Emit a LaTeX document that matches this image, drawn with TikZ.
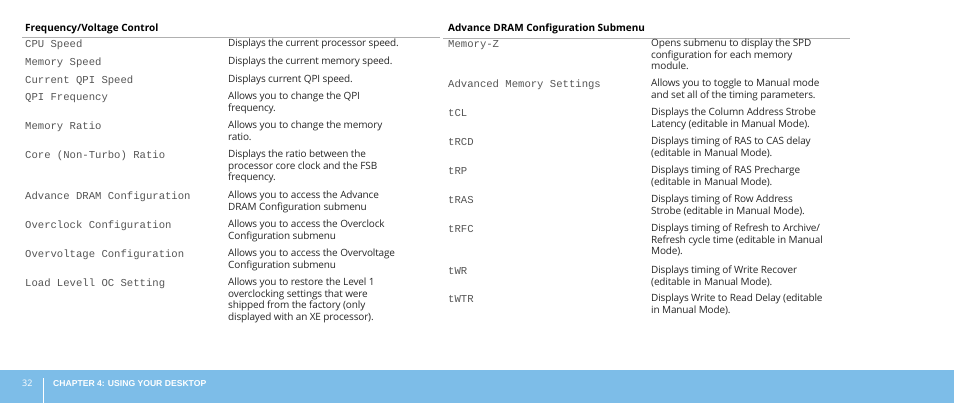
\documentclass[tikz,border=0pt]{standalone}
\usepackage{fontspec}
\setmainfont{Open Sans}
\setmonofont{Liberation Mono}
\definecolor{footblue}{HTML}{7DBDE8}
\definecolor{rulegray}{HTML}{B0B0B0}
\definecolor{itemgray}{HTML}{555555}
\tikzset{
  item/.style={anchor=base west, inner sep=0pt, font=\fontsize{10.6}{11}\ttfamily, text=itemgray},
  desc/.style={anchor=north west, inner sep=0pt, align=left,
    font=\fontsize{10}{11.5}\selectfont\addfontfeatures{LetterSpace=-1.5}, text=black!85},
  head/.style={anchor=base west, inner sep=0pt, font=\fontsize{10}{11}\selectfont\bfseries}
}
\begin{document}
\begin{tikzpicture}[x=1pt,y=-1pt]
        \useasboundingbox (0,0) rectangle (954,403);
        % headers
        \node[head] (hl) at (25,32) {Frequency/Voltage Control};
        \node[head] (hr) at (448,32) {Advance DRAM Configuration Submenu};
        \draw[rulegray] (22,37) -- (440,37);
        \draw[rulegray] (443,38) -- (850,38);
        % left table
        \foreach \y/\a/\b [count=\i] in {
            48/CPU Speed/Displays the current processor speed.,
            66/Memory Speed/Displays the current memory speed.,
            84/Current QPI Speed/Displays current QPI speed.,
            101/QPI Frequency/{Allows you to change the QPI\\frequency.},
            130/Memory Ratio/{Allows you to change the memory\\ratio.},
            159/Core (Non-Turbo) Ratio/{Displays the ratio between the\\processor core clock and the FSB\\frequency.},
            200/Advance DRAM Configuration/{Allows you to access the Advance\\DRAM Configuration submenu},
            229/Overclock Configuration/{Allows you to access the Overclock\\Configuration submenu},
            258/Overvoltage Configuration/{Allows you to access the Overvoltage\\Configuration submenu},
            287/Load Levell OC Setting/{Allows you to restore the Level 1\\overclocking settings that were\\shipped from the factory (only\\displayed with an XE processor).}}
        {
            \node[item] (l\i) at (25,\y) {\a};
            \node[desc] (ld\i) at (228,\y-9) {\b};
        }
        % right table
        \foreach \y/\a/\b [count=\i] in {
            48/Memory-Z/{Opens submenu to display the SPD\\configuration for each memory\\module.},
            88/Advanced Memory Settings/{Allows you to toggle to Manual mode\\and set all of the timing parameters.},
            117/tCL/{Displays the Column Address Strobe\\Latency (editable in Manual Mode).},
            146/tRCD/{Displays timing of RAS to CAS delay\\(editable in Manual Mode).},
            175/tRP/{Displays timing of RAS Precharge\\(editable in Manual Mode).},
            204/tRAS/{Displays timing of Row Address\\Strobe (editable in Manual Mode).},
            233/tRFC/{Displays timing of Refresh to Archive/\\Refresh cycle time (editable in Manual\\Mode).},
            275/tWR/{Displays timing of Write Recover\\(editable in Manual Mode).},
            303/tWTR/{Displays Write to Read Delay (editable\\in Manual Mode).}}
        {
            \node[item] (r\i) at (448,\y) {\a};
            \node[desc] (rd\i) at (651,\y-9) {\b};
        }
        % footer
        \fill[footblue] (0,370) rectangle (954,403);
        \fill[white] (42.5,378) rectangle (44,403);
        \node[anchor=base west, inner sep=0pt, text=white, font=\fontsize{9}{10}\selectfont] (pg) at (22,387) {32};
        \node[anchor=base west, inner sep=0pt, text=white, font=\fontsize{8.6}{10}\fontspec{Liberation Sans}\bfseries] (ch) at (53,387) {CHAPTER 4: USING YOUR DESKTOP};
    \end{tikzpicture}
\end{document}
